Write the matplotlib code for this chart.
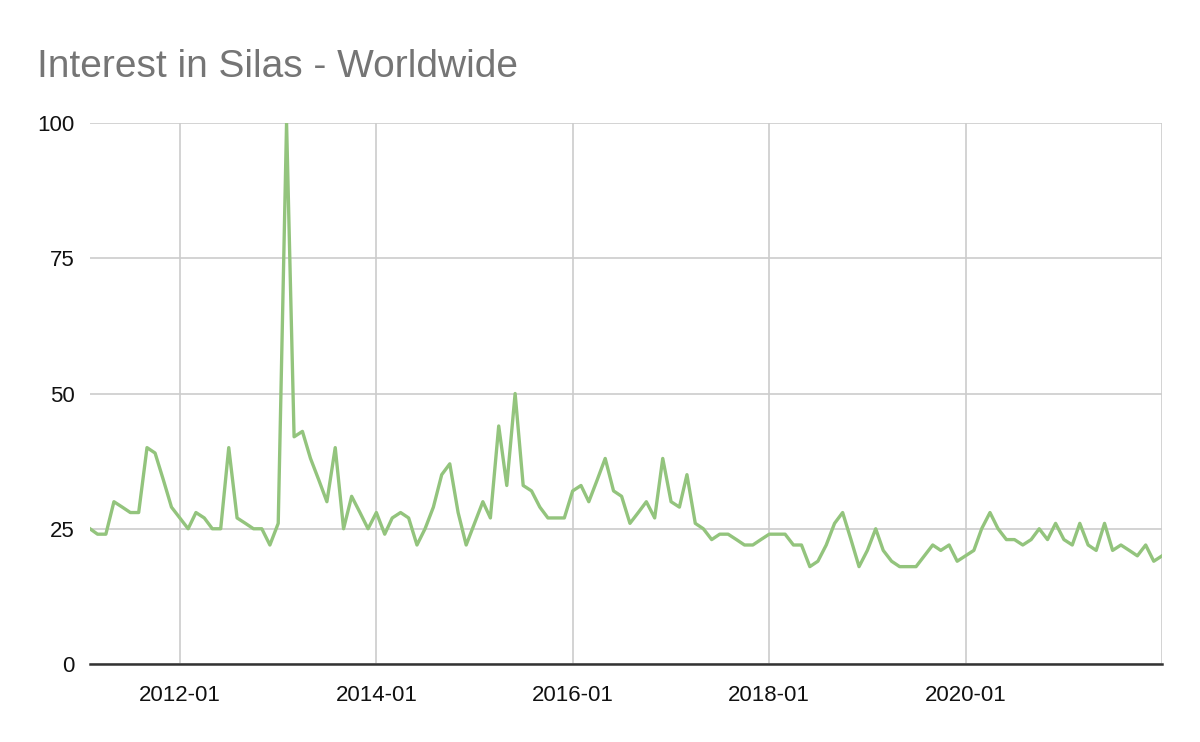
import pandas as pd
import matplotlib.pyplot as plt

plt.rcParams['font.family'] = ['Liberation Sans', 'DejaVu Sans']

# monthly interest, 2011-02 .. 2022-01
months = pd.date_range('2011-02-01', '2022-01-01', freq='MS')
interest = [
    25, 24, 24, 30, 29, 28, 28, 40, 39, 34, 29, 27,
    25, 28, 27, 25, 25, 40, 27, 26, 25, 25, 22, 26,
    100, 42, 43, 38, 34, 30, 40, 25, 31, 28, 25, 28,
    24, 27, 28, 27, 22, 25, 29, 35, 37, 28, 22, 26,
    30, 27, 44, 33, 50, 33, 32, 29, 27, 27, 27, 32,
    33, 30, 34, 38, 32, 31, 26, 28, 30, 27, 38, 30,
    29, 35, 26, 25, 23, 24, 24, 23, 22, 22, 23, 24,
    24, 24, 22, 22, 18, 19, 22, 26, 28, 23, 18, 21,
    25, 21, 19, 18, 18, 18, 20, 22, 21, 22, 19, 20,
    21, 25, 28, 25, 23, 23, 22, 23, 25, 23, 26, 23,
    22, 26, 22, 21, 26, 21, 22, 21, 20, 22, 19, 20,
]
y_ticks = [0, 25, 50, 75, 100]
x_tick_dates = ['2012-01-01', '2014-01-01', '2016-01-01', '2018-01-01', '2020-01-01', '2022-01-01']
x_tick_labels = ['2012-01', '2014-01', '2016-01', '2018-01', '2020-01', '']

df = pd.DataFrame({'month': months, 'interest': interest})

fig = plt.figure(figsize=(12, 7.42), dpi=100)
ax = fig.add_axes([0.075, 0.1051, 0.8934, 0.7291])

ax.plot(df['month'], df['interest'], color='#93c47d', linewidth=2.4, zorder=3)

ax.set_xlim(df['month'].iloc[0], df['month'].iloc[-1])
ax.set_ylim(0, 100)
ax.set_yticks(y_ticks)
ax.set_xticks(pd.to_datetime(x_tick_dates))
ax.set_xticklabels(x_tick_labels)

ax.grid(True, color='#cccccc', linewidth=1.2)
ax.set_axisbelow(True)
for s in ['top', 'right', 'left']:
    ax.spines[s].set_visible(False)
ax.spines['bottom'].set_color('#333333')
ax.spines['bottom'].set_linewidth(1.8)
ax.spines['bottom'].set_zorder(4)
ax.tick_params(length=0, labelsize=16, colors='#111111')
ax.tick_params(axis='y', pad=11)
ax.tick_params(axis='x', pad=15)

fig.text(0.031, 0.8962, 'Interest in Silas - Worldwide', fontsize=28, color='#757575', va='baseline')

fig.savefig('out.png', dpi=100)
